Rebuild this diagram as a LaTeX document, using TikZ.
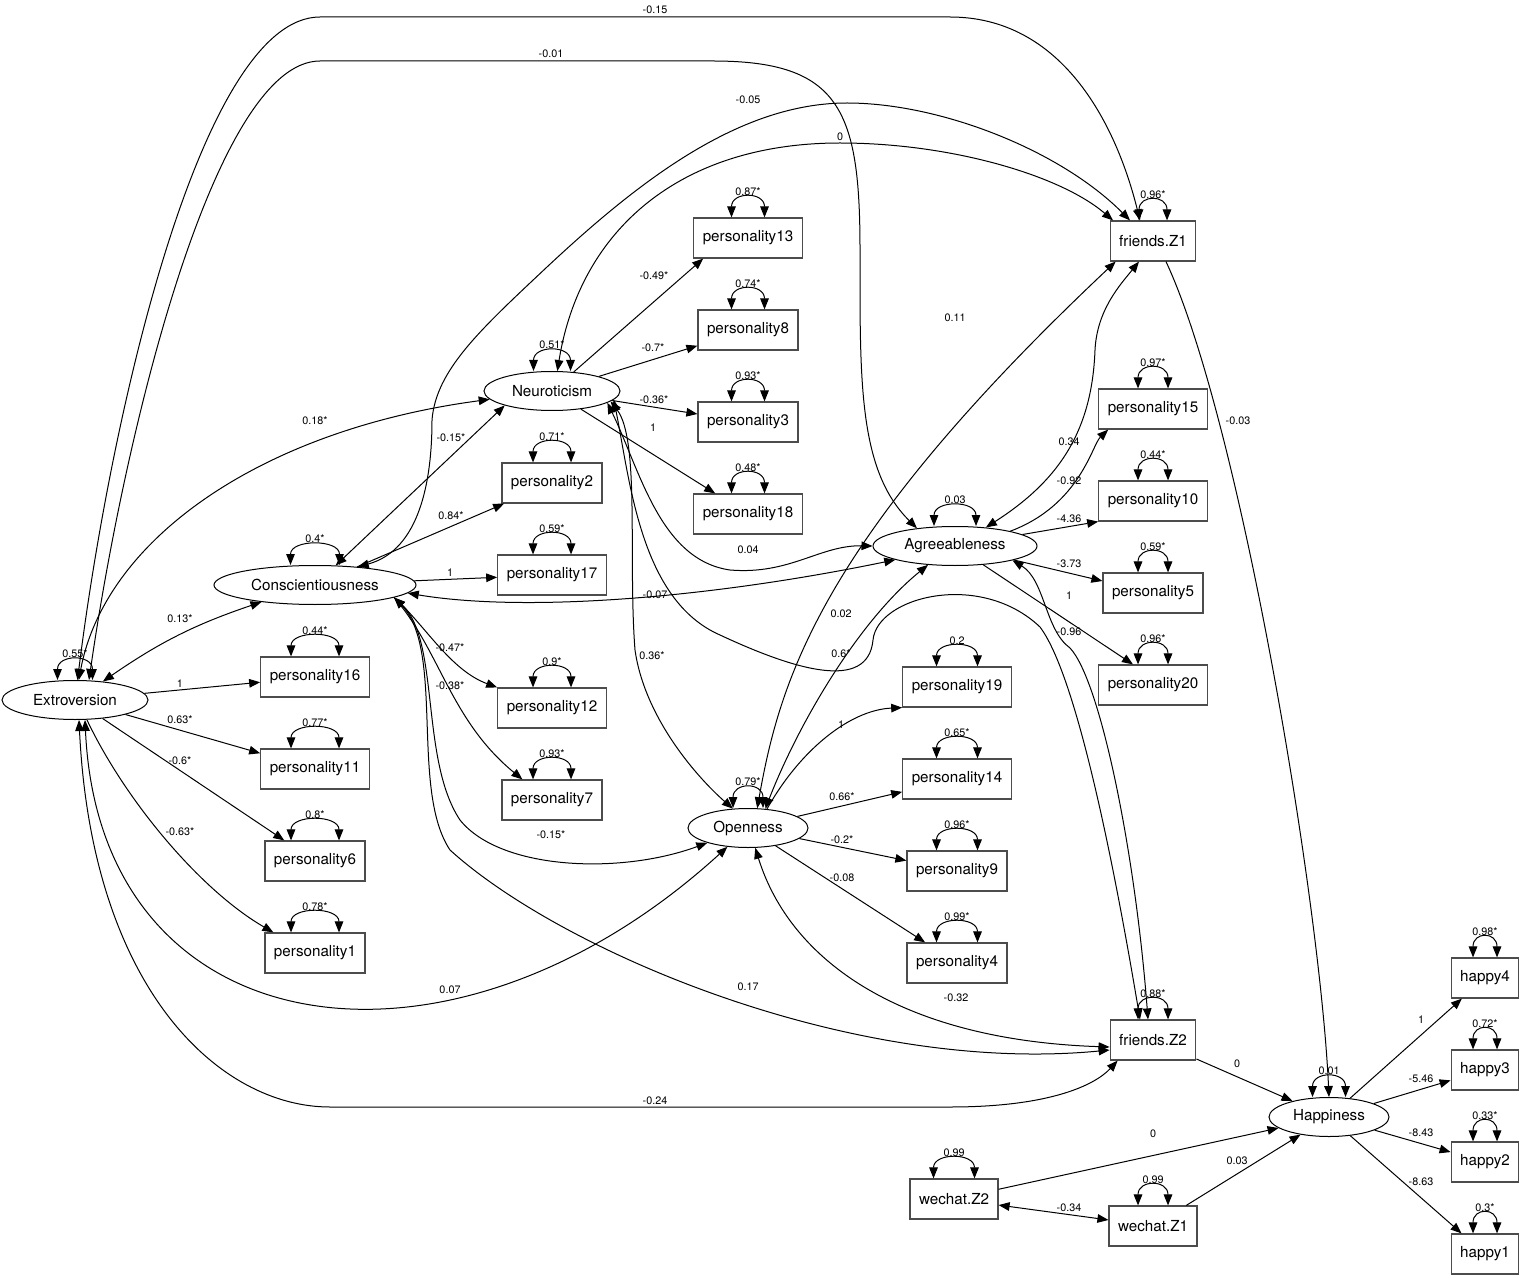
\documentclass[tikz,border=0pt]{standalone}
\usepackage{fontspec}
\setmainfont{TeX Gyre Heros}
\usetikzlibrary{arrows.meta,shapes.geometric}
\begin{document}
\begin{tikzpicture}[
  x=0.5pt,y=-0.5pt,
  line width=0.5pt,
  >={Triangle[length=5.5pt,width=4.3pt]},
  reg/.style={->},
  cov/.style={<->},
  obs/.style={rectangle,draw=black!70,line width=0.6pt,minimum height=20pt,inner xsep=4.5pt,
    font=\fontsize{7.6pt}{9pt}\selectfont},
  lat/.style={ellipse,draw,inner sep=0pt,minimum height=19.5pt,minimum width=#1,
    font=\fontsize{7.6pt}{9pt}\selectfont},
  lab/.style={inner sep=0pt,font=\fontsize{5.4pt}{6pt}\selectfont}
]
\useasboundingbox (0,0) rectangle (1536,1278);

% latent variables
\node[lat=73pt] (ext) at (75,700) {Extroversion};
\node[lat=101pt] (con) at (315,585) {Conscientiousness};
\node[lat=68pt] (neu) at (552,391) {Neuroticism};
\node[lat=82pt] (agr) at (955,546) {Agreeableness};
\node[lat=60pt] (ope) at (748,828) {Openness};
\node[lat=60pt] (hap) at (1329,1117) {Happiness};

% observed variables
\node[obs] (p13) at (748,238) {personality13};
\node[obs] (p8) at (748,330) {personality8};
\node[obs] (p3) at (748,422) {personality3};
\node[obs] (p18) at (748,514) {personality18};
\node[obs] (p2) at (552,483) {personality2};
\node[obs] (p17) at (552,575) {personality17};
\node[obs] (p12) at (552,708) {personality12};
\node[obs] (p7) at (552,800) {personality7};
\node[obs] (p16) at (315,677) {personality16};
\node[obs] (p11) at (315,769) {personality11};
\node[obs] (p6) at (315,861) {personality6};
\node[obs] (p1) at (315,953) {personality1};
\node[obs] (fz1) at (1153,241) {friends.Z1};
\node[obs] (p15) at (1153,409) {personality15};
\node[obs] (p10) at (1153,501) {personality10};
\node[obs] (p5) at (1153,593) {personality5};
\node[obs] (p20) at (1153,685) {personality20};
\node[obs] (p19) at (957,687) {personality19};
\node[obs] (p14) at (957,779) {personality14};
\node[obs] (p9) at (957,871) {personality9};
\node[obs] (p4) at (957,963) {personality4};
\node[obs] (fz2) at (1153,1040) {friends.Z2};
\node[obs] (wz2) at (954,1199) {wechat.Z2};
\node[obs] (wz1) at (1153,1226) {wechat.Z1};
\node[obs] (h4) at (1485,978) {happy4};
\node[obs] (h3) at (1485,1070) {happy3};
\node[obs] (h2) at (1485,1162) {happy2};
\node[obs] (h1) at (1485,1254) {happy1};

% loadings
\draw[reg] (ext) -- (p16);
\draw[reg] (ext) -- (p11);
\draw[reg] (ext) -- (p6);
\draw[reg] ([xshift=6pt]ext.south) .. controls (125,800) and (200,890) .. ([xshift=4.5pt]p1.north west);
\draw[reg] (con) -- (p2);
\draw[reg] (con) -- (p17);
\draw[reg] (con.-9) .. controls (425,625) and (450,670) .. (p12.north west);
\draw[reg] (con.-9) .. controls (440,650) and (450,720) .. ([xshift=10.5pt]p7.north west);
\draw[reg] (neu) -- ([xshift=5pt]p13.south west);
\draw[reg] (neu) -- (p8);
\draw[reg] (neu) -- (p3);
\draw[reg] (neu) -- (p18);
\draw[reg] (agr.15) .. controls (1080,505) and (1092,445) .. ([xshift=5pt]p15.south west);
\draw[reg] (agr) -- (p10.south west);
\draw[reg] (agr) -- (p5);
\draw[reg] (agr) -- ([xshift=-10pt]p20.north);
\draw[reg] (ope.45) .. controls (800,750) and (850,710) .. (p19.south west);
\draw[reg] (ope) -- (p14);
\draw[reg] (ope) -- (p9);
\draw[reg] (ope) -- (p4);
\draw[reg] (hap) -- (h4);
\draw[reg] (hap) -- (h3);
\draw[reg] (hap) -- (h2);
\draw[reg] (hap) -- (h1);

% regressions
\draw[reg] ([xshift=6.5pt]fz1.south) .. controls (1240,420) and (1320,900) .. (hap.north);
\draw[reg] (fz2) -- (hap);
\draw[reg] (wz2) -- (hap);
\draw[reg] (wz1) -- (hap);
\draw[cov] (wz2) -- (wz1);

% covariances
\draw[cov] (ext) .. controls (110,420) and (200,17) .. (320,17) -- (950,17)
  .. controls (1060,17) and (1115,120) .. ([xshift=-6.5pt]fz1.north);
\draw[cov] ([xshift=7pt]ext.north) .. controls (125,430) and (215,61) .. (320,61) -- (713,61)
  .. controls (840,61) and (860,110) .. (860,250) .. controls (860,380) and (858,470) .. (agr.155);
\draw[cov] (ext) to[bend left=8] (con);
\draw[cov] (ext) .. controls (105,540) and (260,430) .. (neu);
\draw[cov] ([xshift=5pt]ext.south) .. controls (100,1050) and (450,1100) .. (ope);
\draw[cov] ([xshift=2pt]ext.south) .. controls (92,990) and (220,1107) .. (330,1107) -- (950,1107)
  .. controls (1050,1107) and (1095,1085) .. ([xshift=4pt]fz2.south west);
\draw[cov] (con) -- (neu.-163);
\draw[cov] (con.-5) .. controls (520,612) and (700,600) .. (agr.-167);
\draw[cov] (con.-9) .. controls (440,640) and (420,760) .. (460,820)
  .. controls (500,870) and (620,875) .. (ope.-160);
\draw[cov] (con.-9) .. controls (445,650) and (410,790) .. (450,850)
  .. controls (560,950) and (850,1075) .. ([yshift=-5pt]fz2.west);
\draw[cov] (con.23) .. controls (420,550) and (432,480) .. (432,420)
  .. controls (436,370) and (480,330) .. (547,267) .. controls (640,180) and (740,103) .. (847,103)
  .. controls (940,103) and (1060,150) .. ([xshift=-11.5pt]fz1.north);
\draw[cov] (neu.-12) .. controls (640,470) and (660,560) .. (730,570)
  .. controls (790,575) and (820,545) .. (agr.west);
\draw[cov] (neu.-10) .. controls (640,440) and (628,560) .. (635,650)
  .. controls (645,720) and (700,780) .. (ope.128);
\draw[cov] (neu.-8) .. controls (630,480) and (640,600) .. (720,635)
  .. controls (795,670) and (868,692) .. (873,640) .. controls (877,597) and (980,570) .. (1040,627)
  .. controls (1080,680) and (1120,900) .. ([xshift=-6.5pt]fz2.north);
\draw[cov] (neu.75) .. controls (580,230) and (680,143) .. (840,143)
  .. controls (950,143) and (1060,175) .. ([xshift=-20pt]fz1.north);
\draw[cov] (agr.31) .. controls (1060,480) and (1092,430) .. (1095,350)
  .. controls (1097,310) and (1120,285) .. ([xshift=-7pt]fz1.south);
\draw[cov] (ope.48) .. controls (800,720) and (860,620) .. (agr.-145);
\draw[cov] (agr.-14) .. controls (1045,580) and (1045,630) .. (1070,648)
  .. controls (1100,680) and (1135,850) .. ([xshift=-2.5pt]fz2.north);
\draw[cov] (ope.65) .. controls (780,680) and (820,540) .. ([xshift=3pt]fz1.south west);
\draw[cov] (ope.-70) .. controls (790,960) and (900,1040) .. ([yshift=-3.5pt]fz2.west);

% variances
\foreach \n/\t/\w in {ext/0.55*/17.5, con/0.4*/24.5, neu/0.51*/18.5, agr/0.03/21, ope/0.79*/15,
    hap/0.01/16.5, p13/0.87*/16.5, p8/0.74*/16.5, p3/0.93*/16.5, p18/0.48*/16.5,
    p2/0.71*/19, p17/0.59*/19, p12/0.9*/19, p7/0.93*/19, p16/0.44*/24, p11/0.77*/24,
    p6/0.8*/24, p1/0.78*/24, fz1/0.96*/14, p15/0.97*/15, p10/0.44*/15, p5/0.59*/15,
    p20/0.96*/15, p19/0.2/20.5, p14/0.65*/20.5, p9/0.96*/20.5, p4/0.99*/20.5,
    fz2/0.88*/15, wz2/0.99/20.5, wz1/0.99/15, h4/0.98*/12, h3/0.72*/12, h2/0.33*/12, h1/0.3*/12}
{
  \draw[cov] ([xshift=-\w*0.5pt]\n.north) .. controls +(0,-26) and +(0,-26) .. ([xshift=\w*0.5pt]\n.north);
  \node[lab] (v\n) at ([yshift=13pt]\n.north) {\t};
}

% edge labels
\foreach \x/\y/\t [count=\i] in {655/10/-0.15, 551/54/-0.01, 748/100/-0.05, 840/137/0, 955/318/0.11,
    1238/421/-0.03, 315/421/0.18*, 451/438/-0.15*, 451/516/0.84*, 450/573/1, 654/276/-0.49*,
    653/348/-0.7*, 654/400/-0.36*, 653/428/1, 748/550/0.04, 655/595/-0.07, 180/619/0.13*,
    180/684/1, 180/720/0.63*, 180/761/-0.6*, 180/832/-0.63*, 450/648/-0.47*, 450/686/-0.38*,
    652/656/0.36*, 551/835/-0.15*, 841/614/0.02, 841/654/0.6*, 1069/442/0.34, 1069/481/-0.92,
    1069/519/-4.36, 1069/564/-3.73, 1069/596/1, 1069/632/-0.96, 841/725/1, 842/797/0.66*,
    842/840/-0.2*, 842/878/-0.08, 450/990/0.07, 748/987/0.17, 956/998/-0.32, 655/1101/-0.24,
    1237/1064/0, 1153/1134/0, 1237/1161/0.03, 1069/1208/-0.34, 1421/1020/1, 1421/1079/-5.46,
    1421/1133/-8.43, 1421/1182/-8.63}
  \node[lab] (e\i) at (\x,\y) {\t};
\end{tikzpicture}
\end{document}
